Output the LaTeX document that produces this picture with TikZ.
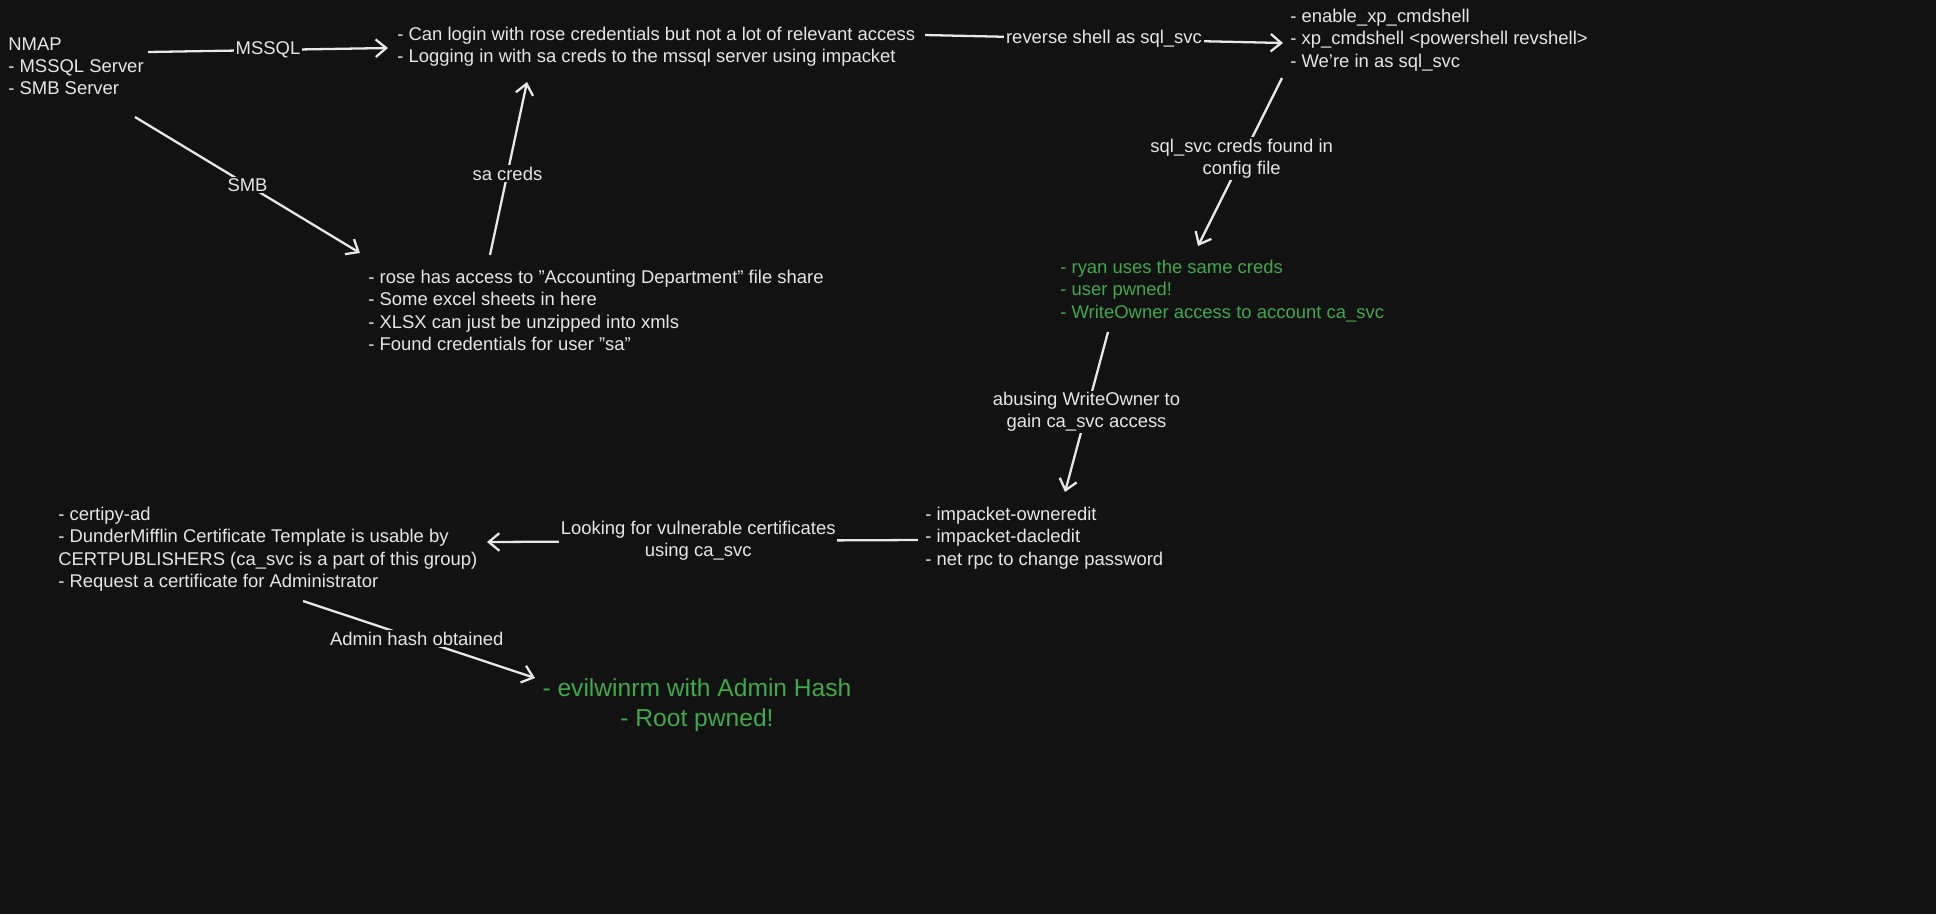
\documentclass[tikz,border=0pt]{standalone}
\usepackage{fontspec}
\setmainfont{Liberation Sans}
\usetikzlibrary{arrows.meta}
\definecolor{bgc}{HTML}{121212}
\definecolor{ink}{HTML}{E6E6E6}
\definecolor{grn}{HTML}{3FAA48}
\begin{document}
\begin{tikzpicture}[x=0.02cm,y=-0.02cm,
  note/.style={anchor=north west,align=left,text=ink,inner sep=0pt,font=\fontsize{10.5}{12.6}\selectfont},
  lbl/.style={fill=bgc,text=ink,align=center,inner sep=1pt,font=\fontsize{10.5}{12.6}\selectfont},
  link/.style={draw=ink!90,line width=1.3pt,-{Straight Barb[length=6pt,width=10pt]}}]

	\fill[bgc] (0,0) rectangle (1936,914);
	\useasboundingbox (0,0) rectangle (1936,914);

	    \node[note] (nmap) at (8,37) {NMAP\\- MSSQL Server\\- SMB Server};
	    \node[note] (mssql) at (397,27) {- Can login with rose credentials but not a lot of relevant access\\- Logging in with sa creds to the mssql server using impacket};
	    \node[note] (xp) at (1290,9) {- enable\_xp\_cmdshell\\- xp\_cmdshell <powershell revshell>\\- We're in as sql\_svc};
	    \node[note] (rose) at (368,270) {- rose has access to "Accounting Department" file share\\- Some excel sheets in here\\- XLSX can just be unzipped into xmls\\- Found credentials for user "sa"};
	    \node[note,text=grn] (ryan) at (1060,260) {- ryan uses the same creds\\- user pwned!\\- WriteOwner access to account ca\_svc};
	    \node[note] (imp) at (925,507) {- impacket-owneredit\\- impacket-dacledit\\- net rpc to change password};
	    \node[note] (cert) at (58,507) {- certipy-ad\\- DunderMifflin Certificate Template is usable by\\CERTPUBLISHERS (ca\_svc is a part of this group)\\- Request a certificate for Administrator};
	    \node[align=center,text=grn,font=\fontsize{14}{17}\selectfont] (evil) at (697,705) {- evilwinrm with Admin Hash\\- Root pwned!};

	    % connectors
	    \coordinate (a1) at (148,52);   \coordinate (a2) at (388,48);
	    \coordinate (b1) at (135,117);  \coordinate (b2) at (360,253);
	    \coordinate (c1) at (490,255);  \coordinate (c2) at (527,82);
	    \coordinate (d1) at (925,35);   \coordinate (d2) at (1283,43);
	    \coordinate (e1) at (1282,78);  \coordinate (e2) at (1198,246);
	    \coordinate (f1) at (1108,332); \coordinate (f2) at (1065,492);
	    \coordinate (g1) at (918,540);  \coordinate (g2) at (487,542);
	    \coordinate (h1) at (303,601);  \coordinate (h2) at (535,678);

	    \draw[link] (a1) -- node[lbl] (la) {MSSQL} (a2);
	    \draw[link] (b1) -- node[lbl] (lb) {SMB} (b2);
	    \draw[link] (c1) -- node[lbl,pos=0.47] (lc) {sa creds} (c2);
	    \draw[link] (d1) -- node[lbl] (ld) {reverse shell as sql\_svc} (d2);
	    \draw[link] (e1) -- node[lbl,pos=0.48] (le) {sql\_svc creds found in\\config file} (e2);
	    \draw[link] (f1) -- node[lbl] (lf) {abusing WriteOwner to\\gain ca\_svc access} (f2);
	    \draw[link] (g1) -- node[lbl,pos=0.51] (lg) {Looking for vulnerable certificates\\using ca\_svc} (g2);
	    \draw[link] (h1) -- node[lbl,pos=0.49] (lh) {Admin hash obtained} (h2);

\end{tikzpicture}
\end{document}
